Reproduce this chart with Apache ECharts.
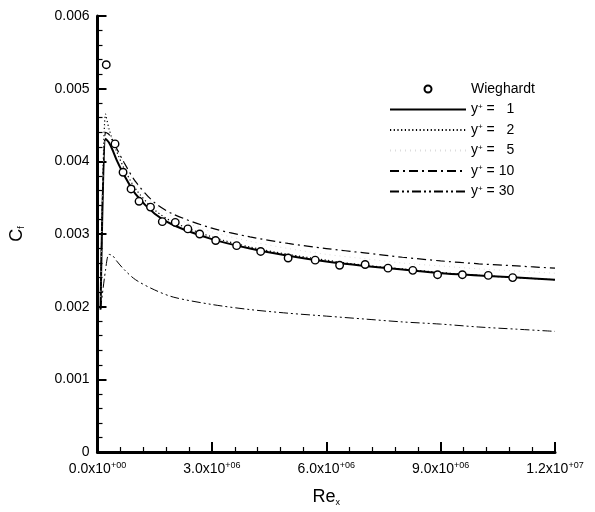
<!DOCTYPE html>
<html>
<head>
<meta charset="utf-8">
<script src="https://cdn.jsdelivr.net/npm/echarts@6/dist/echarts.min.js"></script>
<style>html,body{margin:0;padding:0;background:#fff;}#c{width:595px;height:512px;}</style>
</head>
<body>
<div id="c"></div>
<script>
// Wieghardt experimental data
const wieRe = [2.3e5, 4.6e5, 6.7e5, 8.8e5, 1.09e6, 1.39e6, 1.70e6, 2.04e6, 2.37e6, 2.68e6, 3.1e6, 3.65e6, 4.28e6, 5.0e6, 5.71e6, 6.35e6, 7.02e6, 7.62e6, 8.27e6, 8.92e6, 9.57e6, 1.025e7, 1.089e7];
const wieCf = [0.00533, 0.00424, 0.00385, 0.00362, 0.00345, 0.00337, 0.00317, 0.00316, 0.00307, 0.00300, 0.00291, 0.00284, 0.00276, 0.00267, 0.00264, 0.00257, 0.00258, 0.00253, 0.00250, 0.00244, 0.00244, 0.00243, 0.00240];

// computed curves (common Re stations)
const reGrid = [8e4, 2.1e5, 3e5, 4e5, 5e5, 7e5, 1e6, 1.5e6, 2e6, 3e6, 4e6, 5e6, 6e6, 7e6, 8e6, 9e6, 1e7, 1.1e7, 1.2e7];
const cfY1  = [0.00196, 0.00431, 0.00426, 0.00415, 0.00402, 0.00381, 0.00355, 0.00328, 0.00312, 0.00293, 0.00280, 0.00270, 0.00262, 0.00256, 0.00251, 0.00246, 0.00243, 0.00240, 0.00237];
const cfY2  = [0.00200, 0.00465, 0.00445, 0.00428, 0.00414, 0.00390, 0.00362, 0.00333, 0.00316, 0.00296, 0.00282, 0.00272, 0.00264, 0.00257, 0.00252, 0.00247, 0.00243, 0.00240, 0.00237];
const cfY5  = [0.00200, 0.00450, 0.00440, 0.00430, 0.00420, 0.00398, 0.00370, 0.00340, 0.00323, 0.00303, 0.00290, 0.00280, 0.00272, 0.00266, 0.00260, 0.00256, 0.00252, 0.00249, 0.00246];
const cfY10 = [0.00200, 0.00440, 0.00437, 0.00428, 0.00418, 0.00398, 0.00372, 0.00343, 0.00327, 0.00308, 0.00296, 0.00287, 0.00280, 0.00274, 0.00268, 0.00263, 0.00259, 0.00256, 0.00253];
const cfY30 = [0.00196, 0.00250, 0.00272, 0.00270, 0.00263, 0.00251, 0.00237, 0.00223, 0.00213, 0.00203, 0.00196, 0.00191, 0.00187, 0.00183, 0.00179, 0.00176, 0.00172, 0.00169, 0.00166];

const seriesNames = ['Wieghardt', 'y+ = 1', 'y+ = 2', 'y+ = 5', 'y+ = 10', 'y+ = 30'];
const legendLabels = ['Wieghardt', 'y{p|+} =   1', 'y{p|+} =   2', 'y{p|+} =   5', 'y{p|+} = 10', 'y{p|+} = 30'];

// axis settings
const xMin = 0, xMax = 1.2e7, xStep = 3e6;
const yMin = 0, yMax = 0.006, yStep = 0.001;

function pairs(xs, ys) { return xs.map((x, i) => [x, ys[i]]); }

const FONT = 'Liberation Sans, Arial, sans-serif';
const chart = echarts.init(document.getElementById('c'), null, {renderer: 'canvas'});

function lineSeries(name, ys, type, width, color) {
  return {
    name: name, type: 'line', data: pairs(reGrid, ys),
    showSymbol: false, symbol: 'none', smooth: 0.3,
    lineStyle: {color: color, width: width, type: type},
    itemStyle: {color: color},
    z: 3
  };
}

chart.setOption({
  animation: false,
  backgroundColor: '#fff',
  grid: {left: 90, right: 40, top: 16, bottom: 55, containLabel: false},
  legend: {
    orient: 'vertical', left: 384, top: 77,
    itemWidth: 76, itemHeight: 7, itemGap: 6.5,
    data: seriesNames.map((n, i) => i === 0 ? {name: n} : {name: n, itemStyle: {opacity: 0, borderWidth: 0}}),
    formatter: function (n) { return legendLabels[seriesNames.indexOf(n)]; },
    textStyle: {fontFamily: FONT, fontSize: 14, color: '#000',
      rich: {p: {fontSize: 8, verticalAlign: 'top', padding: [0, 0, 6, 0], fontFamily: FONT, color: '#000'}}},
    selectedMode: false
  },
  xAxis: {
    type: 'value', min: xMin, max: xMax, interval: xStep,
    name: '{a|Re}{b|x}', nameLocation: 'middle', nameGap: 36,
    nameTextStyle: {rich: {
      a: {fontFamily: FONT, fontSize: 18, color: '#000'},
      b: {fontFamily: FONT, fontSize: 9, color: '#000', padding: [10, 0, 0, 0]}
    }},
    axisLine: {show: true, onZero: false, lineStyle: {color: '#000', width: 3}},
    axisTick: {show: true, inside: true, length: 10, lineStyle: {color: '#000', width: 2}},
    minorTick: {show: true, splitNumber: 5, length: 5, lineStyle: {color: '#000', width: 1.2}},
    splitLine: {show: false},
    axisLabel: {
      margin: 9, color: '#000', fontFamily: FONT, fontSize: 14,
      formatter: function (v) {
        const e = v === 0 ? 0 : Math.floor(Math.log10(v) + 1e-9);
        const m = v / Math.pow(10, e);
        const es = (e < 10 ? '0' : '') + e;
        return m.toFixed(1) + 'x10{s|+' + es + '}';
      },
      rich: {s: {fontSize: 9, verticalAlign: 'top', padding: [0, 0, 8, 0], fontFamily: FONT, color: '#000'}}
    }
  },
  yAxis: {
    type: 'value', min: yMin, max: yMax, interval: yStep,
    name: '{a|C}{b|f}', nameLocation: 'middle', nameGap: 71, nameRotate: 90,
    nameTextStyle: {rich: {
      a: {fontFamily: FONT, fontSize: 18, color: '#000'},
      b: {fontFamily: FONT, fontSize: 9, color: '#000', padding: [10, 0, 0, 0]}
    }},
    axisLine: {show: true, onZero: false, lineStyle: {color: '#000', width: 3}},
    axisTick: {show: true, inside: true, length: 9, lineStyle: {color: '#000', width: 2}},
    minorTick: {show: true, splitNumber: 5, length: 5, lineStyle: {color: '#000', width: 1.2}},
    splitLine: {show: false},
    axisLabel: {
      margin: 8, color: '#000', fontFamily: FONT, fontSize: 14,
      formatter: function (v) { return v === 0 ? '0' : v.toFixed(3); }
    }
  },
  series: [
    {
      name: seriesNames[0], type: 'scatter', data: pairs(wieRe, wieCf),
      symbol: 'circle', symbolSize: 7.5,
      itemStyle: {color: '#fff', borderColor: '#000', borderWidth: 1.4, opacity: 1},
      z: 5
    },
    lineSeries(seriesNames[1], cfY1, 'solid', 2, '#000'),
    lineSeries(seriesNames[2], cfY2, [1.2, 2.5], 1.2, '#000'),
    lineSeries(seriesNames[3], cfY5, [1, 4], 1, '#dcdcdc'),
    lineSeries(seriesNames[4], cfY10, [9, 4, 2, 4], 1.2, '#000'),
    lineSeries(seriesNames[5], cfY30, [9, 3, 2, 3, 2, 3], 1, '#000')
  ]
});
</script>
</body>
</html>
